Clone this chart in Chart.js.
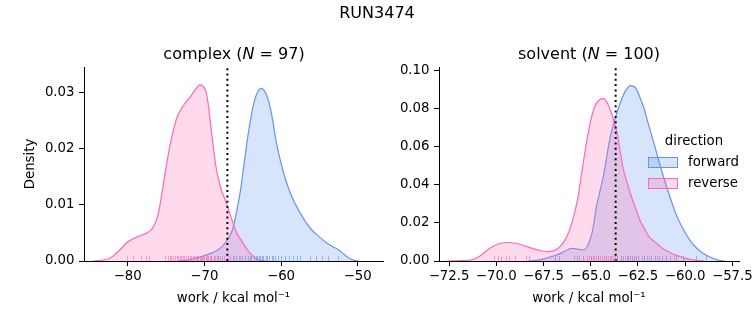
<!DOCTYPE html>
<html>
<head>
<meta charset="utf-8">
<script src="https://cdn.jsdelivr.net/npm/chart.js@4.4.0/dist/chart.umd.min.js"></script>
<style>
  body { margin: 0; width: 753px; height: 325px; overflow: hidden; background: #fff; position: relative; font-family: "DejaVu Sans", sans-serif; color: #000; }
  canvas { position: absolute; top: 0; }
  .txt { position: absolute; white-space: nowrap; line-height: 1; }
  .ttl { font-size: 16px; transform: translate(-50%, -50%); }
  .leg { font-size: 13.3px; }
  .patch { position: absolute; width: 28px; height: 9px; }
</style>
</head>
<body>
<canvas id="c1" width="390" height="325" style="left:0"></canvas>
<canvas id="c2" width="370" height="325" style="left:390px"></canvas>

<div class="txt ttl" style="left:377px; top:13px">RUN3474</div>
<div class="txt ttl" style="left:234px; top:54px">complex (<i>N</i> = 97)</div>
<div class="txt ttl" style="left:589px; top:54px">solvent (<i>N</i> = 100)</div>

<div class="txt leg" style="left:694px; top:141px; transform: translate(-50%, -50%)">direction</div>
<div class="patch" style="left:648px; top:157px; background: rgba(100,149,237,0.25); border: 1px solid #6495ed"></div>
<div class="patch" style="left:648px; top:178px; background: rgba(255,105,180,0.25); border: 1px solid #ff69b4"></div>
<div class="txt leg" style="left:688px; top:162px; transform: translateY(-50%)">forward</div>
<div class="txt leg" style="left:688px; top:183px; transform: translateY(-50%)">reverse</div>

<script>
// complex leg: KDE curves
const complexFwdX = [-73.5, -72.5, -71.5, -70.6, -69.7, -68.9, -68.2, -67.6, -67.0, -66.3, -65.8, -65.3, -64.8, -64.3, -63.7, -63.2, -62.6, -62.1, -61.6, -61.1, -60.7, -60.1, -59.4, -58.6, -57.6, -56.7, -55.9, -55.0, -54.2, -53.3, -52.4, -51.7, -51.1, -50.4, -49.8];
const complexFwdY = [0, 0.0001, 0.0004, 0.0007, 0.0011, 0.0015, 0.002, 0.0027, 0.0038, 0.0057, 0.0088, 0.0125, 0.0175, 0.0225, 0.0272, 0.0297, 0.0308, 0.0302, 0.0284, 0.0252, 0.0218, 0.018, 0.0145, 0.0115, 0.0088, 0.0068, 0.0054, 0.0043, 0.0034, 0.0026, 0.0019, 0.0011, 0.0005, 0.0001, 0];
const complexRevX = [-84.5, -83.6, -82.5, -81.9, -81.0, -80.1, -79.2, -78.4, -77.5, -76.9, -76.4, -76.0, -75.4, -74.9, -74.5, -74.0, -73.6, -72.8, -71.9, -71.2, -70.6, -70.2, -69.8, -69.5, -69.2, -68.8, -68.5, -67.9, -67.2, -66.4, -65.7, -65.1, -64.4, -63.8, -63.2, -62.5, -62.0];
const complexRevY = [0, 0.0001, 0.0004, 0.0009, 0.002, 0.0033, 0.004, 0.0045, 0.005, 0.0056, 0.0068, 0.0085, 0.0133, 0.0175, 0.0205, 0.0235, 0.0255, 0.0276, 0.0292, 0.0305, 0.0314, 0.0312, 0.0303, 0.028, 0.0246, 0.02, 0.0169, 0.0132, 0.0106, 0.0073, 0.0048, 0.0035, 0.002, 0.0011, 0.0004, 0.0001, 0];
const complexFwdRug = [-69.1, -68.2, -67.7, -66.7, -66.3, -65.9, -65.5, -65.1, -64.7, -64.3, -64.0, -63.9, -63.5, -63.3, -63.1, -62.9, -62.7, -62.5, -62.3, -62.0, -61.8, -61.6, -61.2, -61.0, -60.8, -60.4, -60.0, -59.5, -59.0, -58.4, -57.9, -57.5, -56.2, -55.4, -54.7, -53.9, -52.6];
const complexRevRug = [-80.1, -79.3, -78.3, -77.6, -77.2, -75.1, -74.8, -74.5, -74.3, -74.1, -73.8, -73.6, -73.5, -73.2, -73.0, -72.8, -72.6, -72.4, -72.1, -71.9, -71.8, -71.5, -71.3, -71.1, -70.9, -70.8, -70.6, -70.5, -70.3, -70.2, -70.0, -69.8, -69.6, -69.5, -69.3, -69.2, -68.8, -68.6, -68.4, -68.0, -67.4, -66.9, -66.2, -65.4];
const complexMark = -67.0;

// solvent leg
const solventFwdX = [-68.3, -67.9, -67.5, -67.2, -66.9, -66.6, -66.3, -66.0, -65.75, -65.5, -65.3, -65.1, -64.9, -64.7, -64.5, -64.3, -64.0, -63.7, -63.45, -63.2, -62.9, -62.6, -62.4, -62.2, -61.95, -61.7, -61.45, -61.2, -60.85, -60.5, -60.1, -59.75, -59.4, -59.04, -58.6, -58.3, -57.9];
const solventFwdY = [0, 0.0003, 0.001, 0.0019, 0.0029, 0.004, 0.0055, 0.0066, 0.0064, 0.0059, 0.0062, 0.0095, 0.016, 0.0284, 0.037, 0.0459, 0.0634, 0.075, 0.0825, 0.0885, 0.092, 0.0905, 0.086, 0.0808, 0.072, 0.0634, 0.0545, 0.0459, 0.035, 0.025, 0.0167, 0.011, 0.0068, 0.004, 0.0017, 0.0006, 0];
const solventRevX = [-72.6, -71.8, -71.2, -70.8, -70.5, -70.0, -69.45, -68.9, -68.3, -67.7, -67.3, -67.0, -66.7, -66.3, -66.0, -65.7, -65.45, -65.2, -65.0, -64.8, -64.55, -64.3, -64.1, -63.9, -63.6, -63.3, -63.1, -62.9, -62.6, -62.4, -62.1, -61.9, -61.5, -61.2, -60.8, -60.5, -60.1, -59.75, -59.4, -59.0];
const solventRevY = [0, 0.0002, 0.0009, 0.003, 0.0055, 0.0085, 0.0097, 0.0092, 0.0073, 0.0055, 0.0049, 0.0053, 0.0068, 0.012, 0.02, 0.032, 0.048, 0.0634, 0.0735, 0.0808, 0.0845, 0.0852, 0.0825, 0.0775, 0.0668, 0.0494, 0.042, 0.0354, 0.027, 0.0215, 0.016, 0.0127, 0.0092, 0.0066, 0.0045, 0.0031, 0.0018, 0.0009, 0.0003, 0];
const solventFwdRug = [-66.9, -66.7, -65.9, -65.7, -65.4, -65.0, -64.6, -64.2, -63.9, -63.6, -63.4, -63.3, -63.1, -63.0, -62.9, -62.8, -62.7, -62.6, -62.5, -62.3, -62.2, -62.0, -61.8, -61.6, -61.4, -61.2, -61.0, -60.8, -60.5, -60.1, -59.4, -58.9];
const solventRevRug = [-70.1, -69.9, -69.75, -69.5, -69.3, -69.0, -68.4, -68.25, -66.9, -65.6, -65.4, -65.2, -65.1, -65.0, -64.9, -64.8, -64.7, -64.6, -64.5, -64.4, -64.3, -64.2, -64.1, -64.0, -63.9, -63.8, -63.7, -63.6, -63.4, -63.2, -63.0, -62.8, -62.5, -62.2, -61.9, -61.5, -61.0, -60.6];
const solventMark = -63.68;

// ticks
const complexXTicks = [-80, -70, -60, -50];
const complexYTicks = [0, 0.01, 0.02, 0.03];
const solventXTicks = [-72.5, -70, -67.5, -65, -62.5, -60, -57.5];
const solventYTicks = [0, 0.02, 0.04, 0.06, 0.08, 0.10];

const BLUE = '#6495ed', PINK = '#ff69b4';

Chart.defaults.font.family = 'DejaVu Sans';
Chart.defaults.font.size = 13.3;
Chart.defaults.color = '#000';

function pts(xs, ys) {
    return xs.map((x, i) => ({x: x, y: ys[i]}));
}

function minus(v, digits) {
    const s = Math.abs(v).toFixed(digits);
    return v < 0 ? '\u2212' + s : s;
}

// rug ticks along the bottom of the axes
const rugPlugin = {
    id: 'rug',
    afterDatasetsDraw(chart, args, opts) {
        const ctx = chart.ctx;
        const xs = chart.scales.x;
        const bottom = chart.chartArea.bottom;
        opts.sets.forEach(s => {
            ctx.save();
            ctx.strokeStyle = s.color;
            ctx.lineWidth = 1;
            s.values.forEach(v => {
                const px = Math.round(xs.getPixelForValue(v)) + 0.5;
                ctx.beginPath();
                ctx.moveTo(px, bottom);
                ctx.lineTo(px, bottom - 5);
                ctx.stroke();
            });
            ctx.restore();
        });
    }
};

function makeChart(id, p) {
    const ctx = document.getElementById(id).getContext('2d');
    return new Chart(ctx, {
        type: 'line',
        data: {
            datasets: [
                {
                    data: [{x: p.mark, y: 0}, {x: p.mark, y: p.ymax}],
                    borderColor: '#000', borderWidth: 2, borderDash: [2, 3.3],
                    pointRadius: 0, fill: false, order: 0
                },
                {
                    data: pts(p.revX, p.revY),
                    borderColor: PINK, backgroundColor: 'rgba(255,105,180,0.25)',
                    borderWidth: 1.2, pointRadius: 0, fill: 'origin',
                    cubicInterpolationMode: 'monotone', order: 1
                },
                {
                    data: pts(p.fwdX, p.fwdY),
                    borderColor: BLUE, backgroundColor: 'rgba(100,149,237,0.25)',
                    borderWidth: 1.2, pointRadius: 0, fill: 'origin',
                    cubicInterpolationMode: 'monotone', order: 2
                }
            ]
        },
        options: {
            responsive: false,
            animation: false,
            devicePixelRatio: 1,
            layout: { padding: { top: 67, left: p.padLeft, right: p.padRight, bottom: 18 } },
            plugins: {
                legend: { display: false },
                tooltip: { enabled: false },
                rug: { sets: [
                    { values: p.fwdRug, color: 'rgba(100,149,237,0.6)' },
                    { values: p.revRug, color: 'rgba(255,105,180,0.6)' }
                ] }
            },
            scales: {
                x: {
                    type: 'linear', min: p.xmin, max: p.xmax,
                    afterFit: s => { s.height = 46; },
                    afterBuildTicks: s => { s.ticks = p.xTicks.map(v => ({value: v})); },
                    ticks: { autoSkip: false, maxRotation: 0, padding: 3, callback: v => minus(v, p.xDigits) },
                    grid: { drawOnChartArea: false, drawTicks: true, tickLength: 5, tickColor: '#000', tickWidth: 1 },
                    border: { display: true, color: '#000', width: 1 },
                    title: { display: true, text: 'work / kcal mol\u207b\u00b9', padding: 0 }
                },
                y: {
                    type: 'linear', min: 0, max: p.ymax,
                    afterFit: s => { s.width = p.yWidth; },
                    afterBuildTicks: s => { s.ticks = p.yTicks.map(v => ({value: v})); },
                    ticks: { autoSkip: false, padding: 4.5, callback: v => v.toFixed(2) },
                    grid: { drawOnChartArea: false, drawTicks: true, tickLength: 5, tickColor: '#000', tickWidth: 1 },
                    border: { display: true, color: '#000', width: 1 },
                    title: { display: p.ylabel, text: 'Density', padding: 0 }
                }
            }
        },
        plugins: [rugPlugin]
    });
}

makeChart('c1', {
    fwdX: complexFwdX, fwdY: complexFwdY, revX: complexRevX, revY: complexRevY,
    fwdRug: complexFwdRug, revRug: complexRevRug, mark: complexMark,
    xmin: -85.7, xmax: -46.7, ymax: 0.0346,
    xTicks: complexXTicks, yTicks: complexYTicks, xDigits: 0,
    padLeft: 23, padRight: 7, yWidth: 61, ylabel: true
});

makeChart('c2', {
    fwdX: solventFwdX, fwdY: solventFwdY, revX: solventRevX, revY: solventRevY,
    fwdRug: solventFwdRug, revRug: solventRevRug, mark: solventMark,
    xmin: -73.03, xmax: -57.15, ymax: 0.1018,
    xTicks: solventXTicks, yTicks: solventYTicks, xDigits: 1,
    padLeft: 0, padRight: 21, yWidth: 49, ylabel: false
});
</script>
</body>
</html>
